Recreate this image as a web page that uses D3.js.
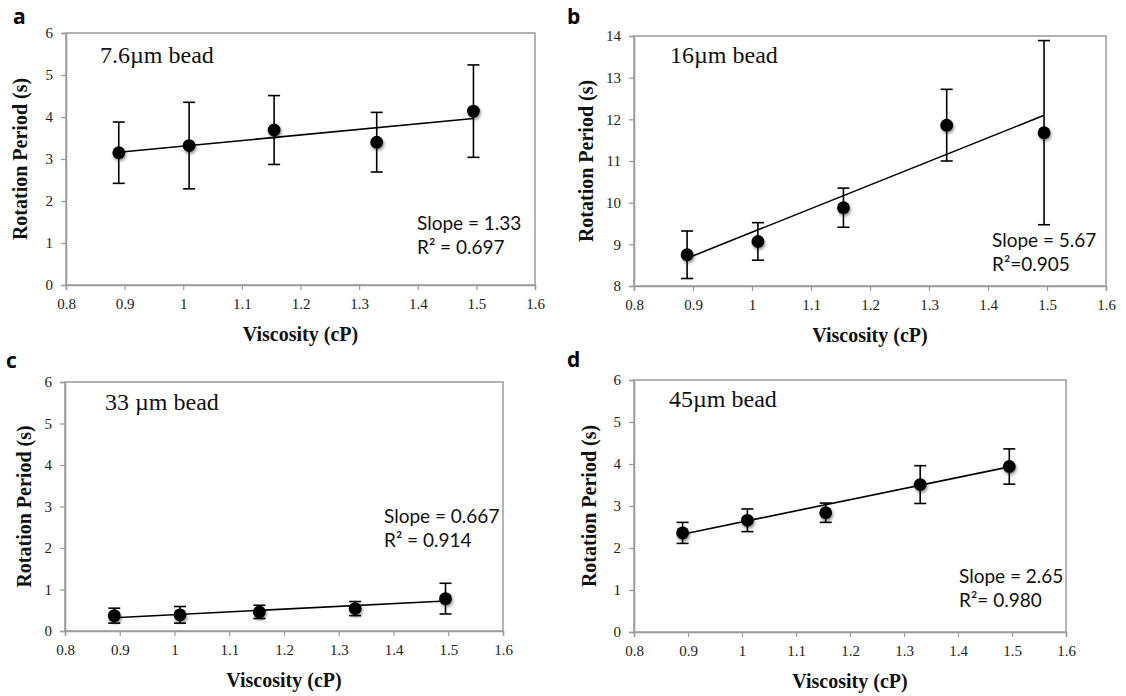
<!DOCTYPE html>
<html>
<head>
<meta charset="utf-8">
<script src="https://cdn.jsdelivr.net/npm/d3@7"></script>
<style>
  html, body { margin: 0; padding: 0; background: #fff; }
  svg { display: block; }
</style>
</head>
<body>
<svg id="fig" width="1126" height="696"></svg>
<script>
// Viscosity of the medium for each measurement (cP)
const viscosity = [0.89, 1.01, 1.155, 1.33, 1.495];

// Mean rotation period (s) and standard deviation for each bead size
const period7_6 = [3.15, 3.32, 3.69, 3.40, 4.14];
const sd7_6     = [0.73, 1.03, 0.82, 0.71, 1.10];

const period16 = [8.75, 9.07, 9.88, 11.86, 11.68];
const sd16     = [0.57, 0.45, 0.47, 0.86, 2.21];

const period33 = [0.37, 0.39, 0.46, 0.54, 0.78];
const sd33     = [0.18, 0.20, 0.16, 0.17, 0.37];

const period45 = [2.36, 2.66, 2.84, 3.51, 3.94];
const sd45     = [0.25, 0.27, 0.23, 0.45, 0.42];

// Linear fits: slope, intercept and coefficient of determination
const fitSlope     = [1.33, 5.67, 0.667, 2.65];
const fitIntercept = [1.976, 3.62, -0.274, -0.03];
const slopeLabels  = ["Slope = 1.33", "Slope = 5.67", "Slope = 0.667", "Slope = 2.65"];
const r2Labels     = ["R\u00B2 = 0.697", "R\u00B2=0.905", "R\u00B2 = 0.914", "R\u00B2= 0.980"];

const panelLetters = ["a", "b", "c", "d"];
const beadTitles   = ["7.6\u00B5m bead", "16\u00B5m bead", "33 \u00B5m bead", "45\u00B5m bead"];

const xDomain  = [0.8, 1.6];
const xTicks   = [0.8, 0.9, 1, 1.1, 1.2, 1.3, 1.4, 1.5, 1.6];
const yDomains = [[0, 6], [8, 14], [0, 6], [0, 6]];
const yTicksA  = [0, 1, 2, 3, 4, 5, 6];
const yTicksB  = [8, 9, 10, 11, 12, 13, 14];

const xTitle = "Viscosity (cP)";
const yTitle = "Rotation Period (s)";

// Assemble the per-panel description from the arrays above
const series = [
  { y: period7_6, sd: sd7_6, yTicks: yTicksA },
  { y: period16,  sd: sd16,  yTicks: yTicksB },
  { y: period33,  sd: sd33,  yTicks: yTicksA },
  { y: period45,  sd: sd45,  yTicks: yTicksA }
];

// Layout of each plot frame on the page
const frames = [
  { left: 66,  right: 535,  top: 33,  bottom: 285, letter: [13, 24],   title: [100, 63],  stats: [417, 230], yTitleX: 27 },
  { left: 634, right: 1106, top: 36,  bottom: 286, letter: [567, 24],  title: [670, 63],  stats: [992, 247], yTitleX: 593 },
  { left: 65,  right: 503,  top: 382, bottom: 631, letter: [6, 368],   title: [105, 410], stats: [384, 523], yTitleX: 31 },
  { left: 634, right: 1066, top: 380, bottom: 632, letter: [567, 367], title: [669, 407], stats: [959, 583], yTitleX: 596 }
];

const svg = d3.select("#fig");
const axisGrey = "#9b9b9b";

const defs = svg.append("defs");
const shadow = defs.append("filter").attr("id", "markerShadow")
  .attr("x", "-60%").attr("y", "-60%").attr("width", "220%").attr("height", "220%");
shadow.append("feDropShadow")
  .attr("dx", 1).attr("dy", 2).attr("stdDeviation", 1.6)
  .attr("flood-color", "#000").attr("flood-opacity", 0.45);

series.forEach((s, i) => {
  const f = frames[i];
  const x = d3.scaleLinear().domain(xDomain).range([f.left, f.right]);
  const y = d3.scaleLinear().domain(yDomains[i]).range([f.bottom, f.top]);
  const g = svg.append("g");

  // Plot frame
  g.append("rect")
    .attr("x", f.left).attr("y", f.top)
    .attr("width", f.right - f.left).attr("height", f.bottom - f.top)
    .attr("fill", "none").attr("stroke", axisGrey).attr("stroke-width", 1.5);

  // Axes
  const xAxis = d3.axisBottom(x).tickValues(xTicks).tickSize(5).tickPadding(8)
    .tickFormat(d => d3.format("")(+d.toFixed(1)));
  const yAxis = d3.axisLeft(y).tickValues(s.yTicks).tickSize(5).tickPadding(8)
    .tickFormat(d3.format("d"));

  const gx = g.append("g").attr("transform", `translate(0,${f.bottom})`).call(xAxis);
  const gy = g.append("g").attr("transform", `translate(${f.left},0)`).call(yAxis);
  [gx, gy].forEach(ax => {
    ax.select(".domain").attr("stroke", axisGrey).attr("stroke-width", 1.5);
    ax.selectAll(".tick line").attr("stroke", axisGrey).attr("stroke-width", 1.2);
    ax.selectAll(".tick text")
      .attr("font-family", "'Liberation Serif', 'Times New Roman', serif")
      .attr("font-size", 15).attr("fill", "#222");
  });

  // Axis titles
  g.append("text")
    .attr("x", (f.left + f.right) / 2).attr("y", f.bottom + 56)
    .attr("text-anchor", "middle")
    .attr("font-family", "'Liberation Serif', 'Times New Roman', serif")
    .attr("font-weight", "bold").attr("font-size", 20).attr("fill", "#111")
    .text(xTitle);
  g.append("text")
    .attr("transform", `translate(${f.yTitleX},${(f.top + f.bottom) / 2}) rotate(-90)`)
    .attr("text-anchor", "middle")
    .attr("font-family", "'Liberation Serif', 'Times New Roman', serif")
    .attr("font-weight", "bold").attr("font-size", 20).attr("fill", "#111")
    .text(yTitle);

  // Panel letter and bead size
  g.append("text")
    .attr("x", f.letter[0]).attr("y", f.letter[1])
    .attr("font-family", "'Open Sans', 'Noto Sans', sans-serif")
    .attr("font-weight", "bold").attr("font-size", 21).attr("fill", "#000")
    .text(panelLetters[i]);
  g.append("text")
    .attr("x", f.title[0]).attr("y", f.title[1])
    .attr("font-family", "'Liberation Serif', 'Times New Roman', serif")
    .attr("font-size", 24).attr("fill", "#111")
    .text(beadTitles[i]);

  // Fit statistics
  const stats = g.append("text")
    .attr("x", f.stats[0]).attr("y", f.stats[1])
    .attr("font-family", "Lato, 'Open Sans', sans-serif")
    .attr("font-size", 19).attr("fill", "#111");
  stats.append("tspan").attr("x", f.stats[0]).attr("dy", 0).text(slopeLabels[i]);
  stats.append("tspan").attr("x", f.stats[0]).attr("dy", 23.5).text(r2Labels[i]);

  const pts = viscosity.map((v, k) => ({ v, m: s.y[k], e: s.sd[k] }));

  // Linear trend line across the measured range
  const xs = d3.extent(viscosity);
  const line = d3.line().x(d => x(d[0])).y(d => y(d[1]));
  g.append("path")
    .datum(xs.map(v => [v, fitSlope[i] * v + fitIntercept[i]]))
    .attr("d", line)
    .attr("fill", "none").attr("stroke", "#000").attr("stroke-width", 1.6);

  // Error bars (± one standard deviation)
  const eb = g.append("g").attr("stroke", "#000").attr("stroke-width", 1.6);
  eb.selectAll("line.stem").data(pts).join("line").attr("class", "stem")
    .attr("x1", d => x(d.v)).attr("x2", d => x(d.v))
    .attr("y1", d => y(d.m - d.e)).attr("y2", d => y(d.m + d.e));
  eb.selectAll("line.capTop").data(pts).join("line").attr("class", "capTop")
    .attr("x1", d => x(d.v) - 6).attr("x2", d => x(d.v) + 6)
    .attr("y1", d => y(d.m + d.e)).attr("y2", d => y(d.m + d.e));
  eb.selectAll("line.capBot").data(pts).join("line").attr("class", "capBot")
    .attr("x1", d => x(d.v) - 6).attr("x2", d => x(d.v) + 6)
    .attr("y1", d => y(d.m - d.e)).attr("y2", d => y(d.m - d.e));

  // Mean markers
  g.selectAll("circle.pt").data(pts).join("circle").attr("class", "pt")
    .attr("cx", d => x(d.v)).attr("cy", d => y(d.m)).attr("r", 6.4)
    .attr("fill", "#000").attr("filter", "url(#markerShadow)");
});
</script>
</body>
</html>
